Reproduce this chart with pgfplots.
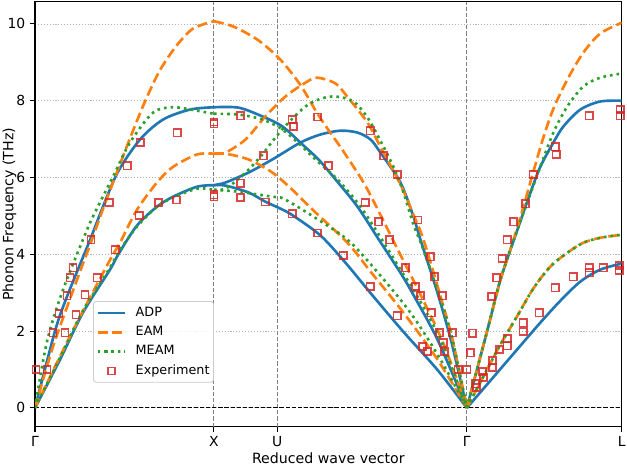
\documentclass[border=0pt]{standalone}
\usepackage{fontspec}
\setmainfont{DejaVu Sans}
\usepackage{pgfplots}
\pgfplotsset{compat=1.18}

\definecolor{adp}{HTML}{1F77B4}
\definecolor{eam}{HTML}{FF7F0E}
\definecolor{meam}{HTML}{2CA02C}
\definecolor{expt}{HTML}{D62728}

\pgfplotsset{
  adpline/.style={adp, line width=1.9pt, solid, line join=round, smooth},
  eamline/.style={eam, line width=1.9pt, dash pattern=on 7.2pt off 3.2pt, smooth},
  meamline/.style={meam, line width=1.9pt, dash pattern=on 1.9pt off 2.9pt, smooth},
}

\begin{document}
\begin{tikzpicture}
\begin{axis}[
  scale only axis,
  width=422.4pt, height=306pt,
  xmin=0, xmax=3.2802, ymin=-0.49, ymax=10.58,
  xtick={0,1,1.3536,2.4142,3.2802},
  xticklabels={Γ,X,U,Γ,L},
  ytick={0,2,4,6,8,10},
  tick pos=left, tick align=outside,
  major tick length=3.5pt,
  every tick/.style={black, line width=0.8pt},
  axis line style={line width=0.8pt},
  ymajorgrids,
  major grid style={black!30, line width=0.6pt, dash pattern=on 0.8pt off 1.3pt},
  /pgf/number format/assume math mode=true,
  ticklabel style={font=\fontsize{10}{12}\selectfont},
  xlabel={Reduced wave vector},
  ylabel={Phonon Frequency (THz)},
  every axis x label/.style={at={(axis description cs:0.5,-0.086)}, anchor=base, font=\fontsize{10.2}{12}\selectfont},
  every axis y label/.style={at={(axis description cs:-0.0436,0.5)}, rotate=90, anchor=center, font=\fontsize{10.2}{12}\selectfont},
  legend image code/.code={\draw[mark repeat=2,mark phase=2,#1] plot coordinates {(0pt,0pt) (10pt,0pt) (20pt,0pt)};},
  legend cell align=left,
  legend style={
    at={(axis description cs:0.0989,0.1035)}, anchor=south west,
    draw=black!20, fill=white, fill opacity=0.8, text opacity=1,
    rounded corners=2pt, line width=0.6pt,
    font=\fontsize{9.2}{11}\selectfont,
    inner xsep=2.1pt, inner ysep=3.2pt,
    nodes={inner sep=0.8pt, text height=6.6pt, text depth=1.9pt},
    row sep=3.8pt,
    /tikz/every odd column/.append style={column sep=5.6pt},
  },
]

% high-symmetry separators and the zero line
\addplot[forget plot, black!50, line width=0.6pt, dash pattern=on 3pt off 1.4pt] coordinates {(1,-0.49) (1,10.58)};
\addplot[forget plot, black!50, line width=0.6pt, dash pattern=on 3pt off 1.4pt] coordinates {(1.3536,-0.49) (1.3536,10.58)};
\addplot[forget plot, black!50, line width=0.6pt, dash pattern=on 3pt off 1.4pt] coordinates {(2.4142,-0.49) (2.4142,10.58)};
\addplot[forget plot, black, line width=0.6pt, dash pattern=on 3pt off 1.4pt] coordinates {(0,0) (3.2802,0)};

% ---------------- ADP ----------------
\addplot[adpline] coordinates {(0,0) (0.112,2.00) (0.179,2.90) (0.308,4.38) (0.380,5.24) (0.464,6.15) (0.587,6.99) (0.716,7.51) (0.867,7.77) (1.0,7.83)};
\addlegendentry{ADP}
\addplot[adpline, forget plot] coordinates {(0,0) (0.140,1.26) (0.268,2.48) (0.419,3.60) (0.466,4.00) (0.570,4.75) (0.682,5.24) (0.772,5.50) (0.906,5.76) (1.0,5.80)};
\addplot[adpline, forget plot] coordinates {(1.0,7.83) (1.138,7.82) (1.272,7.59) (1.383,7.33) (1.495,6.86) (1.585,6.47) (1.680,5.95) (1.803,5.24) (1.920,4.40) (2.043,3.52) (2.099,3.08) (2.250,1.78) (2.4142,0)};
\addplot[adpline, forget plot] coordinates {(1.0,5.80) (1.065,5.87) (1.194,6.13) (1.327,6.47) (1.484,6.91) (1.596,7.12) (1.708,7.22) (1.803,7.17) (1.876,6.99) (1.931,6.65) (2.043,5.87) (2.116,4.98) (2.155,4.38) (2.250,3.00) (2.329,1.70) (2.4142,0)};
\addplot[adpline, forget plot] coordinates {(1.0,5.80) (1.065,5.79) (1.194,5.61) (1.288,5.37) (1.372,5.19) (1.439,5.02) (1.596,4.49) (1.736,3.78) (1.876,2.99) (2.060,1.98) (2.250,0.99) (2.4142,0)};
\addplot[adpline, forget plot] coordinates {(2.4142,0) (2.530,2.04) (2.602,3.34) (2.697,4.64) (2.770,5.61) (2.825,6.28) (2.898,6.91) (2.954,7.33) (3.049,7.77) (3.160,7.98) (3.2802,8.00)};
\addplot[adpline, forget plot] coordinates {(2.4142,0) (2.546,0.71) (2.686,1.47) (2.825,2.22) (2.937,2.79) (3.049,3.29) (3.160,3.60) (3.2802,3.76)};

% ---------------- EAM ----------------
\addplot[eamline] coordinates {(0,0) (0.101,1.60) (0.235,3.34) (0.308,4.25) (0.380,5.18) (0.459,6.15) (0.531,7.02) (0.615,7.98) (0.699,8.80) (0.794,9.45) (0.884,9.88) (1.0,10.07)};
\addlegendentry{EAM}
\addplot[eamline, forget plot] coordinates {(0,0) (0.123,1.18) (0.252,2.38) (0.419,3.85) (0.475,4.30) (0.570,5.16) (0.682,5.87) (0.772,6.28) (0.906,6.60) (1.0,6.62)};
\addplot[eamline, forget plot] coordinates {(1.0,10.07) (1.110,9.93) (1.244,9.59) (1.355,9.15) (1.428,8.76) (1.495,8.33) (1.577,7.68) (1.652,7.16) (1.717,6.73) (1.838,5.86) (1.931,5.03) (2.025,4.15) (2.155,2.95) (2.286,1.65) (2.4142,0)};
\addplot[eamline, forget plot] coordinates {(1.0,6.62) (1.065,6.65) (1.177,6.99) (1.288,7.59) (1.400,8.11) (1.512,8.47) (1.577,8.60) (1.680,8.45) (1.745,8.11) (1.859,7.43) (1.931,6.80) (2.043,5.82) (2.116,5.03) (2.172,4.38) (2.261,3.00) (2.334,1.78) (2.4142,0)};
\addplot[eamline, forget plot] coordinates {(1.0,6.62) (1.065,6.62) (1.194,6.47) (1.327,6.13) (1.439,5.68) (1.557,5.14) (1.747,4.30) (1.876,3.55) (2.060,2.48) (2.250,1.26) (2.4142,0)};
\addplot[eamline, forget plot] coordinates {(2.4142,0) (2.530,2.04) (2.602,3.32) (2.697,4.70) (2.786,6.15) (2.842,7.04) (2.898,7.79) (2.976,8.55) (3.065,9.25) (3.160,9.75) (3.2802,10.03)};
\addplot[eamline, forget plot] coordinates {(2.4142,0) (2.507,0.82) (2.602,1.65) (2.697,2.40) (2.786,3.11) (2.881,3.68) (2.976,4.04) (3.065,4.30) (3.160,4.43) (3.2802,4.51)};

% ---------------- MEAM ----------------
\addplot[meamline] coordinates {(0,0) (0.067,1.73) (0.157,3.08) (0.291,4.64) (0.347,5.20) (0.436,6.02) (0.531,6.91) (0.660,7.69) (0.772,7.83) (0.906,7.74) (1.0,7.66)};
\addlegendentry{MEAM}
\addplot[meamline, forget plot] coordinates {(0,0) (0.140,1.31) (0.268,2.53) (0.419,3.65) (0.466,4.05) (0.570,4.72) (0.682,5.24) (0.772,5.48) (0.906,5.71) (1.0,5.68)};
\addplot[meamline, forget plot] coordinates {(1.0,7.66) (1.138,7.64) (1.272,7.51) (1.383,7.25) (1.495,6.80) (1.568,6.47) (1.691,5.95) (1.820,5.24) (1.943,4.36) (2.054,3.52) (2.116,3.08) (2.267,1.78) (2.4142,0)};
\addplot[meamline, forget plot] coordinates {(1.0,5.68) (1.065,5.71) (1.166,6.08) (1.260,6.54) (1.344,7.04) (1.417,7.43) (1.512,7.85) (1.596,8.05) (1.680,8.11) (1.780,7.98) (1.859,7.56) (1.931,6.96) (2.004,6.28) (2.060,5.61) (2.116,4.77) (2.172,4.12) (2.267,2.82) (2.334,1.78) (2.4142,0)};
\addplot[meamline, forget plot] coordinates {(1.0,5.68) (1.138,5.63) (1.327,5.50) (1.389,5.45) (1.557,4.98) (1.747,4.38) (1.903,3.60) (2.099,2.48) (2.267,1.26) (2.4142,0)};
\addplot[meamline, forget plot] coordinates {(2.4142,0) (2.530,2.04) (2.602,3.34) (2.697,4.64) (2.825,6.28) (2.898,7.17) (2.976,7.85) (3.065,8.37) (3.160,8.60) (3.2802,8.71)};
\addplot[meamline, forget plot] coordinates {(2.4142,0) (2.507,0.82) (2.602,1.65) (2.697,2.40) (2.786,3.11) (2.881,3.68) (2.976,4.04) (3.065,4.30) (3.160,4.43) (3.2802,4.51)};

% ---------------- Experiment ----------------
\addplot[only marks, mark=square, mark size=2.6pt, mark options={draw=expt, draw opacity=0.85, line width=1pt, solid}] coordinates {
 (0.0056,1.00) (0.067,1.00) (0.101,1.96) (0.168,1.96) (0.135,2.46) (0.230,2.43)
 (0.179,2.92) (0.280,2.95) (0.196,3.39) (0.348,3.39) (0.213,3.65) (0.314,4.38)
 (0.449,4.12) (0.415,5.35) (0.583,5.01) (0.516,6.31) (0.589,6.91) (0.690,5.35)
 (0.791,5.41) (0.796,7.17) (1.0,7.40) (1.0,7.45) (1.0,5.50) (1.0,5.55)
 (1.149,7.61) (1.149,5.85) (1.149,5.48) (1.277,6.57) (1.288,5.36)
 (1.439,7.51) (1.445,7.33) (1.439,5.06) (1.579,7.58) (1.579,4.56) (1.641,6.31)
 (1.724,3.97) (1.847,5.35) (1.875,7.22) (1.875,3.16) (1.920,4.85) (1.948,6.57)
 (1.982,4.38) (2.026,6.08) (2.026,2.40) (2.071,3.65) (2.127,3.16) (2.141,4.89)
 (2.155,2.92) (2.166,1.60) (2.194,1.47) (2.211,3.94) (2.233,3.42) (2.278,2.92)
 (2.216,2.48) (2.261,1.96) (2.334,1.96) (2.283,1.70) (2.289,1.47) (2.367,1.00)
 (2.414,1.00)
 (2.446,1.94) (2.435,1.44) (2.641,4.38) (2.613,3.89) (2.580,3.39) (2.552,2.90)
 (2.502,0.95) (2.507,0.79) (2.463,0.63) (2.468,0.53) (2.558,1.23) (2.558,1.05)
 (2.597,1.52) (2.641,1.80) (2.641,1.62) (2.730,2.22) (2.730,1.99) (2.820,2.48)
 (2.909,3.13) (3.010,3.42) (3.099,3.65) (3.099,3.52) (3.177,3.65) (3.267,3.71)
 (3.267,3.58) (2.675,4.85) (2.742,5.32) (2.786,6.08) (2.909,6.80) (2.915,6.60)
 (3.099,7.61) (3.272,7.77) (3.272,7.61)
};
\addlegendentry{Experiment}
\end{axis}
\pgfresetboundingbox
\useasboundingbox (-25.2pt,-28.1pt) rectangle (426.2pt,307.2pt);
\end{tikzpicture}
\end{document}
